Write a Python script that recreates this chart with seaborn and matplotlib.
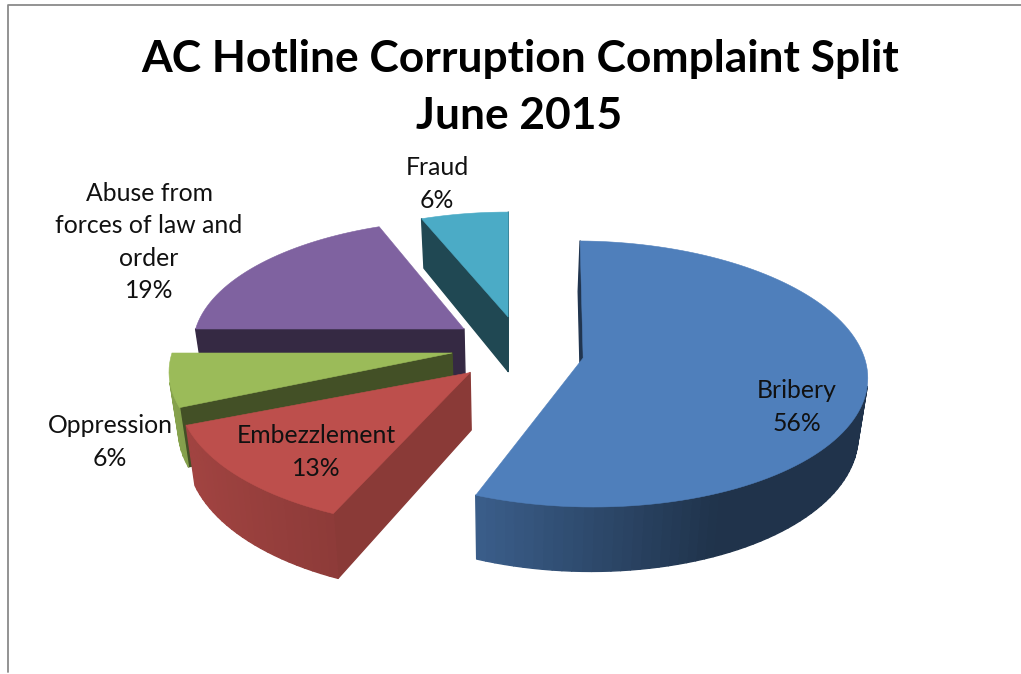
import numpy as np
import pandas as pd
import seaborn as sns
import matplotlib
matplotlib.use("Agg")
import matplotlib.pyplot as plt
from matplotlib.lines import Line2D

# ---- data ----
categories = ["Bribery", "Embezzlement", "Oppression",
              "Abuse from\nforces of law and\norder", "Fraud"]
shares = [56, 13, 6, 19, 6]
title_lines = ["AC Hotline Corruption Complaint Split", "June 2015"]

# ---- style ----
top_colors = ["#4F7FBB", "#BD4F4C", "#9BBB59", "#7F62A0", "#4BABC6"]
wall_shade = [0.42, 0.73, 0.43, 0.42, 0.42]
explode_x = [0.260, -0.14, -0.207, -0.168, -0.007]
explode_y = [0.100, 0.210, 0.062, -0.127, -0.225]
radius = [1.0, 1.015, 1.0, 0.98, 0.96]
trim_start_deg = [1.1, 2.2, -2.0, 0, 0]
label_xy = [(797, 407), (316, 452), (110, 442), (149, 242), (437, 184)]
paint_order = [4, 3, 2, 1, 0]

VP_X, CY, A, B, K, H = 510, 345, 278, 128, 0.119, 56
LEAN = 0.027

sns.set_theme(style="white")
plt.rcParams["font.family"] = ["Lato", "DejaVu Sans"]
palette = sns.color_palette(top_colors)

df = pd.DataFrame({"category": categories, "share": shares})
df["frac"] = df["share"] / df["share"].sum()
df["end"] = df["frac"].cumsum() * 2 * np.pi
df["start"] = df["end"] - df["frac"] * 2 * np.pi


def project(X, Y):
    s = 1 / (1 - K * Y)
    return VP_X + A * X * s, CY + B * Y * s, s


def lower(x, y, s):
    return x + (VP_X - x) * LEAN, y + H * s


def shade(col, f):
    return tuple(np.clip(np.array(col) * f, 0, 1))


fig, ax = plt.subplots(figsize=(10.21, 6.74), dpi=100)
fig.subplots_adjust(0, 0, 1, 1)
ax.set_xlim(0, 1021)
ax.set_ylim(674, 0)
ax.axis("off")

for i in paint_order:
    row = df.iloc[i]
    th = np.linspace(row.start + np.radians(trim_start_deg[i]), row.end,
                     max(8, int(row.frac * 200)))
    x0, y0, r = explode_x[i], explode_y[i], radius[i]
    X = np.r_[x0, x0 + r * np.sin(th)]
    Y = np.r_[y0, y0 - r * np.cos(th)]
    x, y, s = project(X, Y)
    bx, by = lower(x, y, s)
    area = 0.5 * np.sum(x * np.roll(y, -1) - np.roll(x, -1) * y)
    n = len(x)
    for j in range(n):
        k = (j + 1) % n
        ex, ey = x[k] - x[j], y[k] - y[j]
        nx_, ny_ = (ey, -ex) if area > 0 else (-ey, ex)
        dx, dy = bx[j] - x[j], by[j] - y[j]
        if nx_ * dx + ny_ * dy <= 0:
            continue
        if j == 0 or j == n - 1:
            col = shade(palette[i], wall_shade[i])
        else:
            nx = np.sin(0.5 * (th[j - 1] + th[j]))
            col = shade(palette[i], np.interp(nx, [-1, -0.37, 0.4, 1],
                                              [0.87, 0.74, 0.40, 0.40]))
        ax.fill([x[j], x[k], bx[k], bx[j]], [y[j], y[k], by[k], by[j]],
                color=col, lw=1.0, joinstyle="round", zorder=1)
    ax.fill(x, y, color=palette[i], lw=0.4, zorder=1)

for i, row in df.iterrows():
    lx, ly = label_xy[i]
    ax.text(lx, ly, f"{row.category}\n{row.share}%", ha="center", va="center",
            fontsize=17.8, color="#111111", linespacing=1.5, zorder=3)

ax.text(520.5, 59, title_lines[0], ha="center", va="center", fontsize=31.9,
        fontweight="bold", color="black")
ax.text(519, 116, title_lines[1], ha="center", va="center", fontsize=31.9,
        fontweight="bold", color="black")

fig.add_artist(Line2D([8 / 1021, 8 / 1021, 1], [1 - 672 / 674, 1 - 5 / 674, 1 - 5 / 674],
                      color="#8a8a8a", lw=1.3))
fig.savefig("out.png", dpi=100, facecolor="white")
